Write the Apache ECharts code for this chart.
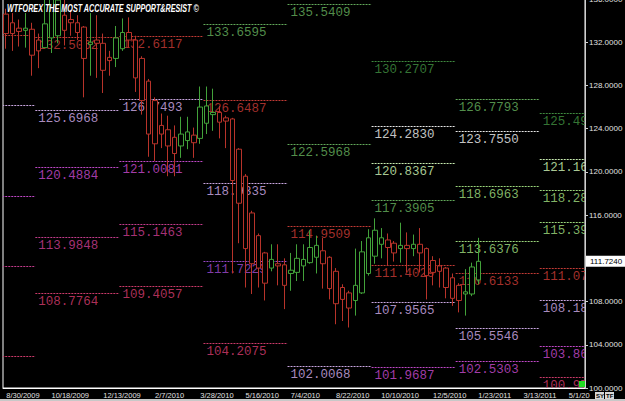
<!DOCTYPE html>
<html>
<head>
<meta charset="utf-8">
<script src="https://cdn.jsdelivr.net/npm/echarts@6/dist/echarts.min.js"></script>
<style>
html, body { margin: 0; padding: 0; background: #000; }
#chart { width: 625px; height: 401px; }
</style>
</head>
<body>
<div id="chart"></div>
<script>
// weekly bars, first week 8/30/2009
const firstWeek = '2009-08-30'
const weekCount = 90
const tickLabels = ['8/30/2009', '10/18/2009', '12/13/2009', '2/7/2010', '3/28/2010', '5/16/2010',
  '7/4/2010', '8/22/2010', '10/10/2010', '12/5/2010', '1/23/2011', '3/13/2011', '5/1/2011']

const opens = [134.6, 133.8, 133.3, 133.1, 133.2, 132.2, 131.5, 132.4, 132.6, 134.5,
  134.1, 133.8, 133.4, 131.8, 132.2, 131.9, 130.6, 130.5, 131.4, 132.9,
  132.2, 130.5, 128.4, 126.6, 124.3, 123.9, 123.2, 122.4, 122.9, 123.4,
  123.1, 124.5, 125.3, 125.5, 125.0, 124.9, 122.1, 119.6, 116.2, 114.1,
  112.5, 111.1, 111.5, 111.4, 110.6, 110.7, 111.3, 111.6, 112.1, 112.7,
  112.1, 110.8, 109.3, 108.8, 108.1, 108.8, 110.6, 112.2, 113.3, 113.7,
  113.4, 112.9, 113.2, 112.9, 113.3, 112.9, 111.8, 111.3, 111.1, 110.2,
  109.5, 108.7, 108.7, 110.0]
const highs = [135.1, 134.7, 134.1, 134.7, 133.8, 132.8, 136.3, 137.0, 137.0, 136.0,
  135.0, 134.5, 133.5, 134.7, 134.5, 132.8, 131.2, 133.5, 134.2, 134.3,
  132.6, 130.7, 128.6, 126.9, 125.4, 125.2, 124.3, 125.1, 125.1, 124.1,
  127.9, 127.9, 127.7, 126.1, 125.2, 125.0, 122.2, 119.8, 116.4, 114.3,
  112.6, 113.3, 113.3, 112.0, 112.5, 113.3, 113.3, 114.6, 114.1, 113.9,
  112.2, 111.1, 109.6, 109.0, 112.9, 113.6, 114.7, 115.7, 114.8, 114.3,
  113.6, 115.3, 114.4, 114.2, 114.8, 113.0, 112.2, 112.0, 111.2, 110.6,
  109.7, 111.0, 111.6, 113.9]
const lows = [131.4, 131.2, 131.6, 131.5, 128.9, 129.6, 131.5, 131.0, 131.9, 131.7,
  132.6, 132.2, 126.9, 128.9, 128.7, 127.3, 128.9, 129.7, 131.2, 131.5,
  127.4, 125.3, 121.4, 121.0, 122.2, 119.6, 119.6, 121.3, 122.1, 121.3,
  122.6, 123.5, 123.8, 123.1, 122.2, 110.6, 113.4, 109.3, 108.7, 109.3,
  108.1, 110.8, 109.5, 107.3, 109.0, 109.9, 109.9, 111.5, 110.6, 109.2,
  108.2, 105.9, 106.2, 105.6, 106.7, 108.7, 110.4, 111.5, 112.0, 111.3,
  111.7, 111.6, 110.7, 112.2, 110.7, 108.2, 109.5, 109.3, 108.3, 107.6,
  107.0, 106.7, 108.5, 109.6]
const closes = [132.8, 132.8, 133.0, 133.3, 130.8, 131.2, 133.7, 136.2, 135.9, 133.1,
  133.8, 132.9, 130.5, 132.0, 131.9, 129.4, 130.3, 132.4, 132.9, 132.2,
  128.7, 126.6, 123.5, 122.6, 123.5, 122.4, 121.7, 123.5, 123.7, 122.7,
  126.0, 126.1, 125.5, 124.6, 124.7, 119.2, 117.1, 112.9, 111.5, 111.1,
  109.7, 111.9, 111.3, 109.5, 110.9, 112.0, 111.9, 113.0, 113.2, 111.5,
  109.2, 107.8, 108.2, 107.4, 109.5, 112.6, 113.9, 114.6, 113.9, 113.0,
  112.5, 113.2, 112.9, 113.3, 112.5, 110.4, 110.7, 110.8, 109.3, 108.3,
  108.1, 108.9, 111.2, 111.724]
const currentPrice = 111.724

// quarterly support / resistance levels (quarter boundaries, then levels per quarter)
const quarterDates = ['2009-07-05', '2009-10-04', '2010-01-03', '2010-04-04', '2010-07-04',
  '2010-10-03', '2011-01-02', '2011-04-03', '2011-07-03']
const levelValues = [
  [132.65, 126.18, 117.76, 111.29, 102.96],
  [132.5062, 125.6968, 120.4884, 113.9848, 108.7764],
  [132.6117, 126.7493, 121.0081, 115.1463, 109.4057],
  [133.6595, 126.6487, 118.9335, 111.7229, 104.2075],
  [135.5409, 122.5968, 114.9509, 102.0068],
  [130.2707, 124.2830, 120.8367, 117.3905, 111.4029, 107.9565, 101.9687],
  [126.7793, 123.7550, 118.6963, 113.6376, 110.6133, 105.5546, 102.5303],
  [125.4921, 121.1658, 118.2816, 115.3974, 111.0711, 108.1869, 103.8606, 100.9764],
]
const levelTones = [
  ['red', 'lav', 'mag', 'pink', 'rose'],
  ['red', 'lav', 'mag', 'pink', 'rose'],
  ['red', 'lav', 'mag', 'pink', 'rose'],
  ['green', 'red', 'lav', 'purple', 'rose'],
  ['green', 'green', 'red', 'lav'],
  ['dkgreen', 'white', 'pale', 'green', 'red', 'lav', 'mag'],
  ['green', 'white', 'lime', 'lime', 'red', 'lav', 'mag'],
  ['dkgreen', 'pale', 'lime', 'lime', 'red', 'lav', 'mag', 'rose'],
]
const toneColors = {
  green: '#62a95a', dkgreen: '#3f8a3f', lime: '#9ad57a', pale: '#c8ecb0', white: '#e8e8e8',
  red: '#c23a35', lav: '#c9a6e0', mag: '#c048c8', purple: '#9848c8', pink: '#c43c8c', rose: '#cc3a6a',
}

const WEEK = 7 * 864e5
const t0 = Date.parse(firstWeek)
const fmt = (d) => `${d.getUTCMonth() + 1}/${d.getUTCDate()}/${d.getUTCFullYear()}`
const weeks = Array.from({ length: weekCount }, (_, i) => fmt(new Date(t0 + i * WEEK)))
const weekIndex = (s) => Math.round((Date.parse(s) - t0) / WEEK)

const levelItems = []
levelValues.forEach((vals, q) => {
  vals.forEach((v, j) => {
    levelItems.push({
      start: weekIndex(quarterDates[q]),
      end: weekIndex(quarterDates[q + 1]),
      value: v,
      tone: levelTones[q][j],
    })
  })
})

const renderLevel = (params, api) => {
  const lv = levelItems[params.dataIndex]
  const half = api.size([1, 0])[0] / 2
  const p0 = api.coord([lv.start, lv.value])
  const p1 = api.coord([lv.end, lv.value])
  const y = Math.round(p0[1]) + 0.5
  const x0 = p0[0] - half
  const c = toneColors[lv.tone]
  const children = [{
    type: 'line',
    shape: { x1: x0, y1: y, x2: p1[0] - half, y2: y },
    style: { stroke: c, lineWidth: 1, lineDash: [2, 1] },
  }]
  if (lv.start >= 0) {
    children.push({
      type: 'text',
      x: x0 + 3,
      y: y + 2,
      style: {
        text: lv.value.toFixed(4), fill: c, opacity: 0.85,
        font: '12.5px "Liberation Mono"', verticalAlign: 'top',
      },
    })
  }
  return { type: 'group', children }
}

const chart = echarts.init(document.getElementById('chart'), null, { renderer: 'svg' })
const showTick = (idx, val) => tickLabels.includes(val)
const lastTick = tickLabels[tickLabels.length - 1]

chart.setOption({
  animation: false,
  backgroundColor: '#000',
  grid: {
    left: 3, right: 40, top: -1, bottom: 13, outerBoundsMode: 'none',
    show: true, borderColor: '#fff', borderWidth: 1,
  },
  xAxis: {
    type: 'category',
    data: weeks,
    axisLine: { lineStyle: { color: '#fff' } },
    axisTick: { interval: showTick, length: 3, lineStyle: { color: '#fff' } },
    axisLabel: {
      interval: showTick, align: 'left', color: '#e0e0e0', fontSize: 7.5,
      fontFamily: 'Liberation Sans', margin: 3,
      // the last date runs into the price scale and is cut there
      formatter: (v) => (v === lastTick ? v.slice(0, 6) : v),
    },
    splitLine: { show: false },
  },
  yAxis: {
    type: 'value',
    position: 'right',
    min: 100,
    max: 136,
    interval: 4,
    axisLine: { show: true, lineStyle: { color: '#d0d0d0' } },
    axisTick: { show: true, length: 3, lineStyle: { color: '#d0d0d0' } },
    axisLabel: {
      // 112 sits under the current price box
      formatter: (v) => (Math.abs(v - currentPrice) < 1.5 ? '' : v.toFixed(4)),
      color: '#e0e0e0', fontSize: 8, fontFamily: 'Liberation Sans', margin: 4,
    },
    splitLine: { show: false },
  },
  series: [
    {
      type: 'custom',
      renderItem: renderLevel,
      data: levelItems.map((l) => [Math.max(0, l.start), l.value]),
      encode: { x: 0, y: 1 },
      clip: true,
      silent: true,
      z: 1,
    },
    {
      type: 'candlestick',
      data: opens.map((o, i) => [o, closes[i], lows[i], highs[i]]),
      barWidth: 5,
      itemStyle: {
        color: '#000', color0: '#000',
        borderColor: '#42a23a', borderColor0: '#b8332a', borderWidth: 1,
      },
      z: 3,
      markLine: {
        silent: true,
        symbol: 'none',
        lineStyle: { color: 'rgba(0,0,0,0)', width: 0 },
        label: {
          show: true, position: 'end', distance: 1, formatter: currentPrice.toFixed(4),
          backgroundColor: '#fff', color: '#000', fontSize: 8, fontFamily: 'Liberation Sans',
          padding: [2, 4, 1, 4],
        },
        data: [{ yAxis: currentPrice }],
      },
    },
  ],
  graphic: [
    {
      type: 'text', x: 7, y: 4, scaleX: 0.72, z: 100,
      style: { text: 'WTFOREX THE MOST ACCURATE SUPPORT&RESIST ©', fill: '#fff', font: 'italic bold 10px "Liberation Sans"' },
    },
    { type: 'rect', shape: { x: 579, y: 381, width: 6, height: 6 }, style: { fill: '#22dd22' }, z: 100 },
    { type: 'rect', shape: { x: 0, y: 399, width: 625, height: 2 }, style: { fill: '#c8c8c8' }, z: 100 },
    { type: 'rect', shape: { x: 595, y: 392, width: 9, height: 7 }, style: { fill: '#d8d8d8' }, z: 100 },
    { type: 'rect', shape: { x: 605, y: 392, width: 9, height: 7 }, style: { fill: '#d8d8d8' }, z: 100 },
    { type: 'text', x: 596, y: 393, z: 101, style: { text: 'SY', fill: '#000', font: 'bold 6px "Liberation Sans"' } },
    { type: 'text', x: 606, y: 393, z: 101, style: { text: 'TF', fill: '#000', font: 'bold 6px "Liberation Sans"' } },
  ],
})
</script>
</body>
</html>
